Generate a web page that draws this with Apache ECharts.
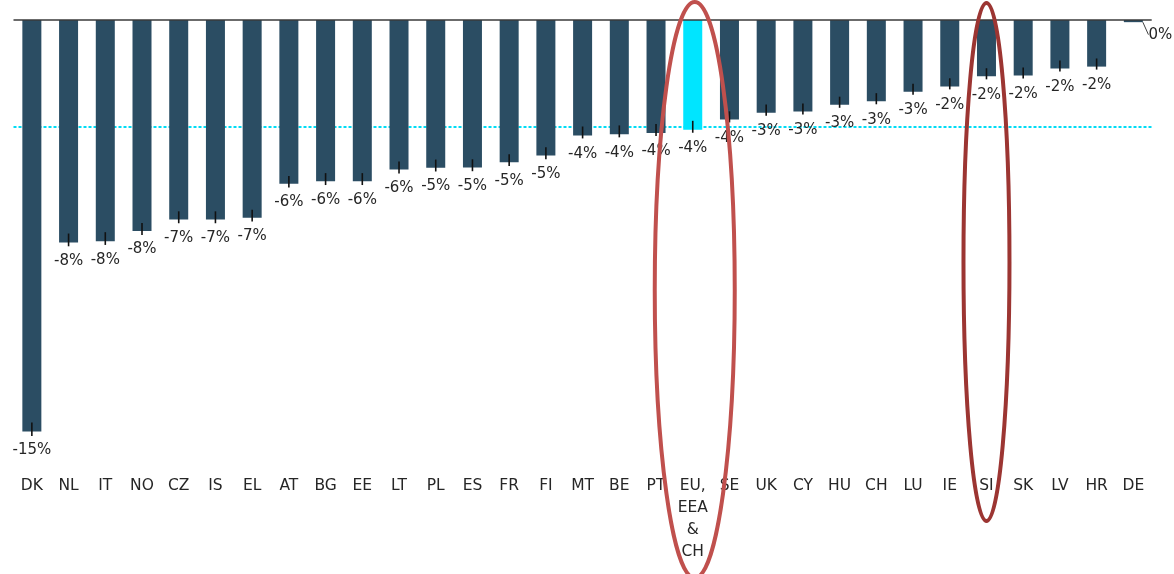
<!DOCTYPE html>
<html>
<head>
<meta charset="utf-8">
<script src="https://cdn.jsdelivr.net/npm/echarts@6/dist/echarts.min.js"></script>
<style>
  html, body { margin: 0; padding: 0; background: #ffffff; }
  #chart { width: 1174px; height: 574px; }
</style>
</head>
<body>
<div id="chart"></div>
<script>
// Country codes along the x axis (EU aggregate is highlighted)
const categories = ['DK', 'NL', 'IT', 'NO', 'CZ', 'IS', 'EL', 'AT', 'BG', 'EE', 'LT', 'PL', 'ES', 'FR', 'FI',
  'MT', 'BE', 'PT', 'EU,\nEEA\n&\nCH', 'SE', 'UK', 'CY', 'HU', 'CH', 'LU', 'IE', 'SI', 'SK', 'LV', 'HR', 'DE'];

// Change in percent per country
const changePct = [-15.18, -8.21, -8.16, -7.79, -7.36, -7.36, -7.3, -6.04, -5.95, -5.95, -5.52, -5.45, -5.44,
  -5.25, -5.0, -4.26, -4.22, -4.17, -4.05, -3.67, -3.42, -3.38, -3.13, -3.0, -2.65, -2.45, -2.08, -2.05, -1.79,
  -1.72, -0.08];

// Uncertainty whiskers: extent towards zero and away from zero (percentage points)
const errTowardZero = [0.33, 0.33, 0.33, 0.3, 0.3, 0.3, 0.3, 0.28, 0.3, 0.3, 0.3, 0.3, 0.3, 0.3, 0.3,
  0.33, 0.33, 0.33, 0.33, 0.3, 0.3, 0.3, 0.3, 0.3, 0.3, 0.3, 0.3, 0.3, 0.3, 0.3, 0];
const errAwayZero = [0.17, 0.14, 0.14, 0.14, 0.14, 0.14, 0.14, 0.14, 0.14, 0.14, 0.14, 0.14, 0.14, 0.14, 0.14,
  0.11, 0.11, 0.11, 0.11, 0.11, 0.11, 0.11, 0.11, 0.11, 0.11, 0.11, 0.11, 0.11, 0.11, 0.11, 0];

const highlightIndex = 18;   // EU, EEA & CH aggregate
const circledIndex = 26;     // SI
const zeroLabelIndex = 30;   // DE

const FONT = 'DejaVu Sans';
const BAR = '#2b4d63';
const HIGHLIGHT = '#00e5ff';

const chart = echarts.init(document.getElementById('chart'), null, { renderer: 'canvas' });

const barData = changePct.map((v, i) => {
  const item = { value: v };
  if (i === highlightIndex) item.itemStyle = { color: HIGHLIGHT };
  if (i === zeroLabelIndex) item.labelLine = { show: true, lineStyle: { color: '#404040', width: 1 } };
  return item;
});

const errData = changePct.map((v, i) => [i, v + errTowardZero[i], v - errAwayZero[i]]);

chart.setOption({
  animation: false,
  backgroundColor: '#ffffff',
  grid: { left: 13.5, right: 22.3, top: 20, height: 433.6 },
  xAxis: {
    type: 'category',
    data: categories,
    position: 'bottom',
    axisLine: { show: false },
    axisTick: { show: false },
    axisLabel: {
      interval: 0, fontFamily: FONT, fontSize: 15.5, color: '#262626',
      margin: 21, lineHeight: 22
    }
  },
  yAxis: {
    type: 'value', min: -16, max: 0,
    axisLine: { show: false }, axisTick: { show: false },
    axisLabel: { show: false }, splitLine: { show: false }
  },
  series: [
    {
      type: 'bar',
      data: barData,
      barWidth: 19,
      itemStyle: { color: BAR },
      label: {
        show: true,
        position: 'bottom',
        distance: 11,
        fontFamily: FONT,
        fontSize: 15,
        color: '#262626',
        formatter: p => Math.round(p.value) + '%'
      },
      labelLine: { show: false },
      labelLayout: p => (p.dataIndex === zeroLabelIndex ? { dx: 27, dy: -6 } : {}),
      // zero baseline across the plot
      markLine: {
        silent: true,
        symbol: 'none',
        label: { show: false },
        lineStyle: { color: '#3a3a3a', width: 1.5, type: 'solid' },
        data: [{ yAxis: 0 }]
      },
      z: 2
    },
    {
      type: 'custom',
      data: errData,
      silent: true,
      z: 3,
      renderItem: (params, api) => {
        const top = api.coord([api.value(0), api.value(1)]);
        const bottom = api.coord([api.value(0), api.value(2)]);
        return {
          type: 'line',
          shape: { x1: top[0], y1: top[1], x2: bottom[0], y2: bottom[1] },
          style: { stroke: '#111111', lineWidth: 1.6 }
        };
      }
    }
  ]
});

// Aggregate reference level and red ellipses drawing attention to the aggregate and to SI
const grid = chart.getModel().getComponent('grid').coordinateSystem.getRect();
const refY = Math.round(chart.convertToPixel({ yAxisIndex: 0 }, changePct[highlightIndex] + 0.1));
const euX = chart.convertToPixel({ xAxisIndex: 0 }, highlightIndex);
const siX = chart.convertToPixel({ xAxisIndex: 0 }, circledIndex);
chart.setOption({
  graphic: [
    {
      type: 'line', z: 1, silent: true,
      shape: { x1: grid.x, y1: refY, x2: grid.x + grid.width, y2: refY },
      style: { stroke: '#00dcf5', lineWidth: 2, lineDash: [3, 2] }
    },
    {
      type: 'ellipse', z: 100, silent: true,
      shape: { cx: euX + 2, cy: 290, rx: 40, ry: 288 },
      style: { fill: 'none', stroke: '#c0504d', lineWidth: 4 }
    },
    {
      type: 'ellipse', z: 100, silent: true,
      shape: { cx: siX, cy: 262, rx: 23, ry: 259 },
      style: { fill: 'none', stroke: '#9c3532', lineWidth: 4 }
    }
  ]
});
</script>
</body>
</html>
